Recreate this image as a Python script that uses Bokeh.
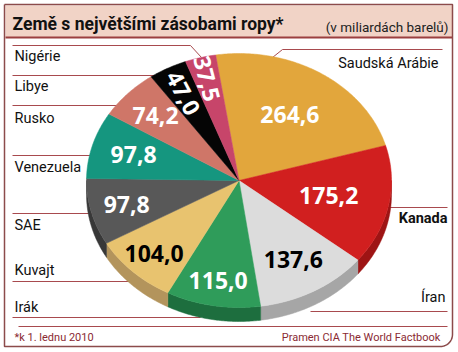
import numpy as np
from bokeh.plotting import figure
from bokeh.models import Range1d
from bokeh.embed import file_html
from bokeh.resources import INLINE
from bokeh.core.properties import value

# ---------------- data ----------------
countries = ["Saudská Arábie", "Kanada", "Íran", "Irák", "Kuvajt",
             "SAE", "Venezuela", "Rusko", "Libye", "Nigérie"]
reserves = [264.6, 175.2, 137.6, 115.0, 104.0, 97.8, 97.8, 74.2, 47.0, 37.5]
value_labels = ["264,6", "175,2", "137,6", "115,0", "104,0",
                "97,8", "97,8", "74,2", "47,0", "37,5"]
title = "Země s největšími zásobami ropy*"
subtitle = "(v miliardách barelů)"
footnote = "*k 1. lednu 2010"
source = "Pramen CIA The World Factbook"

# ---------------- styles ----------------
top_colors = ["#e2a63c", "#d11f1f", "#dcdcdc", "#2f9c5a", "#e8c36f",
              "#585858", "#15967f", "#cf7668", "#050505", "#c7456a"]
side_colors = ["#b0802a", "#9e1414", "#a6a6a6", "#1d6e3e", "#b3945c",
               "#383838", "#0e6a59", "#9c5449", "#000000", "#8f2f4a"]
num_colors = ["white", "white", "black", "white", "black",
              "white", "white", "white", "white", "white"]
label_r = [0.62, 0.60, 0.72, 0.80, 0.80, 0.76, 0.72, 0.75, 0.78, 0.83]
rot_labels = [False, False, False, False, False, False, False, False, True, True]

W, H = 458, 352
cx, cy, rx, ry, depth = 238.5, 180.0, 152.5, 127.0, 14.0
start_deg = 98.8
LINE = "#a84a4e"
TXT_FONT = "Roboto"
NUM_FONT = "Open Sans"

p = figure(width=W, height=H, x_range=Range1d(0, W), y_range=Range1d(H, 0),
           output_backend="svg", toolbar_location=None,
           x_axis_type=None, y_axis_type=None, min_border=0)
p.grid.visible = False
p.outline_line_color = None
p.background_fill_color = "white"
p.border_fill_color = "white"

# title band
p.quad(left=5, right=452, top=5, bottom=37, fill_color="#f1d3c6", line_color=None)
p.segment(x0=5, y0=37, x1=452, y1=37, line_color="#9b3f3f", line_width=2)

# frame with rounded bottom-right corner
rc = 12
t = np.linspace(0, np.pi / 2, 12)
fx = [4, 452, 452] + list(452 - rc + rc * np.cos(t)) + [4, 4]
fy = [4, 4, 346 - rc] + list(346 - rc + rc * np.sin(t)) + [346, 4]
p.line(fx, fy, line_color="#8c4b4b", line_width=1.5)

# leader lines (drawn below the pie)
leaders = [
    ([12, 190, 201], [45, 45, 57]),      # Nigérie
    ([12, 165], [75, 75]),               # Libye
    ([12, 130], [105, 105]),             # Rusko
    ([12, 105], [155, 155]),             # Venezuela
    ([12, 105], [213, 213]),             # SAE
    ([12, 140], [281, 281]),             # Kuvajt
    ([12, 200], [317, 317]),             # Irák
    ([18, 447], [326, 326]),             # footer line
    ([442, 282, 272], [49, 49, 57]),     # Saudská Arábie
    ([447, 380], [207, 207]),            # Kanada
    ([447, 310], [311, 311]),            # Íran
]
for xs, ys in leaders:
    p.line(xs, ys, line_color=LINE, line_width=1)

# pie geometry
vals = np.array(reserves, dtype=float)
spans = vals / vals.sum() * 360.0
starts = start_deg - np.concatenate([[0], np.cumsum(spans)[:-1]])
ends = starts - spans

def ell(a_deg, dy=0.0):
    a = np.radians(a_deg)
    return cx + rx * np.cos(a), cy - ry * np.sin(a) + dy

# sides (lower half, angles in [-180, 0])
for s, e, col in zip(starts, ends, side_colors):
    hi, lo = min(s, 0.0), max(e, -180.0)
    if hi <= lo:
        continue
    a = np.linspace(hi, lo, 60)
    x1, y1 = ell(a)
    x2, y2 = ell(a[::-1], depth)
    p.patch(list(x1) + list(x2), list(y1) + list(y2),
            fill_color=col, line_color=col, line_width=0.5)

# top faces
for s, e, col in zip(starts, ends, top_colors):
    a = np.linspace(s, e, max(8, int(abs(s - e) * 1.5)))
    x, y = ell(a)
    p.patch([cx] + list(x), [cy] + list(y), fill_color=col,
            line_color=col, line_width=0.5)

# value labels
mids = (starts + ends) / 2.0
for m, r, txt, tc, rot in zip(mids, label_r, value_labels, num_colors, rot_labels):
    a = np.radians(m)
    lx = cx + rx * r * np.cos(a)
    ly = cy - ry * r * np.sin(a)
    ang = (m - 180.0) if rot else 0.0
    p.text(x=[lx], y=[ly], text=[txt], text_color=tc, text_font=value(NUM_FONT),
           text_font_style="bold", text_font_size="23px", text_align="center",
           text_baseline="middle", angle=ang, angle_units="deg")

# country labels
lab_pos = {
    "Nigérie": (14, 56, "left"), "Libye": (14, 86, "left"), "Rusko": (14, 118, "left"),
    "Venezuela": (14, 167, "left"), "SAE": (14, 225, "left"), "Kuvajt": (14, 270, "left"),
    "Irák": (14, 307, "left"), "Saudská Arábie": (438, 63, "right"),
    "Kanada": (447, 218, "right"), "Íran": (445, 297, "right"),
}
for c in countries:
    x, y, al = lab_pos[c]
    p.text(x=[x], y=[y], text=[c], text_color="#111111", text_font=value(TXT_FONT),
           text_font_style="bold" if c == "Kanada" else "normal",
           text_font_size="14.5px", text_align=al, text_baseline="middle")

# titles and footer
p.text(x=[12], y=[23], text=[title], text_color="#111111", text_font=value(TXT_FONT),
       text_font_style="bold", text_font_size="17.5px", text_align="left", text_baseline="middle")
p.text(x=[448], y=[26], text=[subtitle], text_color="#222222", text_font=value(TXT_FONT),
       text_font_size="13.5px", text_align="right", text_baseline="middle")
p.text(x=[14], y=[337], text=[footnote], text_color="#8a2a33", text_font=value(TXT_FONT),
       text_font_size="11px", text_align="left", text_baseline="middle")
p.text(x=[440], y=[337], text=[source], text_color="#8a2a33", text_font=value(TXT_FONT),
       text_font_size="11px", text_align="right", text_baseline="middle")

open("out.html", "w").write(file_html(p, INLINE))
